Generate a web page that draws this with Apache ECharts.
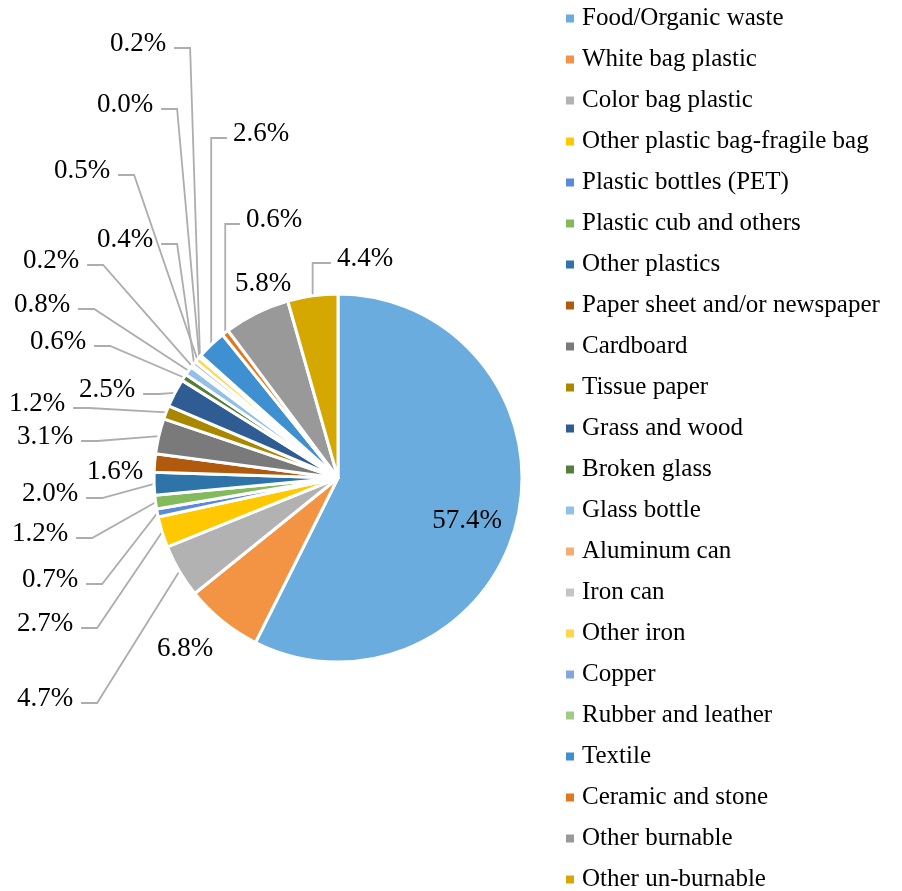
<!DOCTYPE html>
<html><head><meta charset="utf-8">
<script src="https://cdn.jsdelivr.net/npm/echarts@6/dist/echarts.min.js"></script>
<style>html,body{margin:0;padding:0;background:#fff}#c{width:902px;height:891px}</style>
</head><body><div id="c"></div>
<script>
// ---- data ----
const categories = [
  'Food/Organic waste', 'White bag plastic', 'Color bag plastic', 'Other plastic bag-fragile bag',
  'Plastic bottles (PET)', 'Plastic cub and others', 'Other plastics', 'Paper sheet and/or newspaper',
  'Cardboard', 'Tissue paper', 'Grass and wood', 'Broken glass', 'Glass bottle', 'Aluminum can',
  'Iron can', 'Other iron', 'Copper', 'Rubber and leather', 'Textile', 'Ceramic and stone',
  'Other burnable', 'Other un-burnable'
];
const shares = [57.4, 6.8, 4.7, 2.7, 0.7, 1.2, 2.0, 1.6, 3.1, 1.2, 2.5, 0.6, 0.8, 0.2, 0.4, 0.5, 0.0, 0.2, 2.6, 0.6, 5.8, 4.4];

// ---- styles / layout ----
const colors = ['#6AACDE', '#F29443', '#B2B2B2', '#FFC800', '#5B8BD8', '#82BA5C', '#2E74A8', '#B05A0E',
  '#7A7A7A', '#A98800', '#2F5C92', '#547E3A', '#93C0E8', '#F5AE72', '#C5C5C5', '#FFD54A',
  '#85A6DC', '#A0CB86', '#3E90D0', '#E1781E', '#999999', '#D4A800'];
// label text centres (Excel-style manual label placement)
const labelX = [467, 185, 45, 45, 50, 40, 50, 115, 45, 37, 107, 58, 42, 51, 125, 82, 125, 138, 261, 274, 263, 365];
const labelY = [518, 646, 696, 621, 577, 531, 491, 469, 434, 401, 387, 339, 302, 258, 237, 168, 102, 41, 131, 217, 281, 256];
const noLeader = [0, 1, 7, 20];

const FONT = '"Liberation Serif", "Times New Roman", serif';
const chart = echarts.init(document.getElementById('c'));

function layoutLabel(params) {
  const i = params.dataIndex;
  const x = labelX[i], y = labelY[i];
  const res = { x: x, y: y + 3, align: 'center', verticalAlign: 'middle' };
  const pts = params.labelLinePoints;
  if (pts && noLeader.indexOf(i) < 0) {
    const w = params.labelRect.width;
    const e = pts[0];
    const ly = y + 7;
    if (x < e[0] - 20) {
      const x2 = x + w / 2 + 8;
      res.labelLinePoints = [[e[0], e[1]], [x2 + 16, ly], [x2, ly]];
    } else {
      const x2 = x - w / 2 - 6;
      res.labelLinePoints = [[e[0], e[1]], [e[0], ly], [x2, ly]];
    }
  }
  return res;
}

chart.setOption({
  animation: false,
  color: colors,
  legend: {
    orient: 'vertical', left: 566, top: 6, padding: 0, height: 890,
    itemWidth: 8, itemHeight: 8, itemGap: 16, icon: 'rect',
    itemStyle: { borderWidth: 0 },
    textStyle: { fontFamily: FONT, fontSize: 25, color: '#000', padding: [0, 0, 0, 3] },
    data: categories
  },
  series: [{
    type: 'pie',
    center: [338, 478],
    radius: 184,
    startAngle: 90,
    clockwise: true,
    avoidLabelOverlap: false,
    itemStyle: { borderColor: '#fff', borderWidth: 3 },
    label: {
      show: true, position: 'outside', fontFamily: FONT, fontSize: 27, color: '#000',
      formatter: function (p) { return p.value.toFixed(1) + '%'; }
    },
    labelLine: { show: true, length: 10, length2: 10, lineStyle: { color: '#ADADAD', width: 1.8 } },
    labelLayout: layoutLabel,
    data: categories.map(function (n, i) {
      const d = { name: n, value: shares[i] };
      if (i === 0) d.label = { position: 'inside' };
      if (noLeader.indexOf(i) >= 0) d.labelLine = { show: false };
      return d;
    })
  }]
});
</script>
</body></html>
